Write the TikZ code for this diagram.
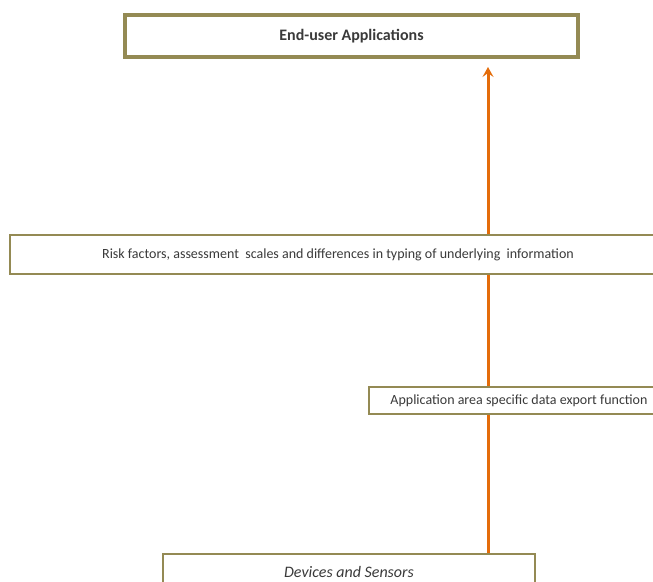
\documentclass[tikz,border=0pt]{standalone}
\usepackage{fontspec}
\setmainfont{Carlito}
\usetikzlibrary{arrows.meta}
\definecolor{olive}{HTML}{948A54}
\definecolor{flow}{HTML}{E46C0A}
\definecolor{ink}{HTML}{3A3A3A}
\tikzset{
  layer/.style={draw=olive, fill=white, line width=2pt, text=ink, inner sep=0pt, anchor=north west,
    font=\fontsize{14}{16}\selectfont},
  mainlayer/.style={layer, line width=4pt, font=\fontsize{16}{18}\selectfont\bfseries},
  flowline/.style={draw=flow, line width=3pt, -{Stealth[length=10pt,width=11pt,inset=4pt]}}
}
\begin{document}
\begin{tikzpicture}[x=1pt,y=-1pt]
\useasboundingbox (0,0) rectangle (653,581);
\clip (0,0) rectangle (653,581);
% upward data flow, drawn under the layer boxes
\coordinate (flowbot) at (488,553);
\coordinate (flowtop) at (488,67);
\draw[flowline] (flowbot) -- (flowtop);
% layers
\node[mainlayer, minimum width=453pt, minimum height=42pt] (app) at (123,13)
  {End-user Applications};
\node[layer, minimum width=656pt, minimum height=39pt] (risk) at (9,234)
  {Risk factors, assessment\ \ scales and differences in typing of underlying\ \ information};
\node[layer, minimum width=300pt, minimum height=27pt] (export) at (368,386)
  {Application area specific data export function};
\node[layer, minimum width=372pt, minimum height=36pt, font=\fontsize{16}{18}\selectfont\itshape] (dev) at (162,553)
  {Devices and Sensors};
\end{tikzpicture}
\end{document}
